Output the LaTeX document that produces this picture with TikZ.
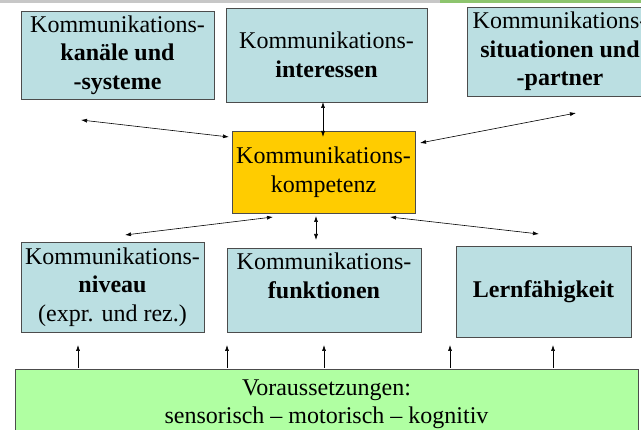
\documentclass[tikz,border=0pt]{standalone}
\usepackage{fontspec}
\setmainfont{Liberation Serif}
\usetikzlibrary{arrows.meta}
\definecolor{boxblue}{HTML}{BBDFE2}
\definecolor{kernorange}{HTML}{FFCC00}
\definecolor{basegreen}{HTML}{B0FFA2}
\definecolor{stripgreen}{HTML}{8DC46E}

\begin{document}
\begin{tikzpicture}[x=1pt, y=-1pt,
    box/.style={draw=black!70, fill=boxblue, align=center, inner sep=0pt,
      font=\fontsize{24}{28.5}\selectfont},
    link/.style={{Latex[length=6pt,width=4pt]}-{Latex[length=6pt,width=4pt]}, line width=0.6pt},
    uplink/.style={-{Latex[length=6pt,width=4pt]}, line width=0.6pt}]
      \useasboundingbox (0,0) rectangle (641,430);
      \clip (0,0) rectangle (641,430);
      \fill[black!22] (0,0) rectangle (440,3);
      \fill[stripgreen] (440,0) rectangle (641,3);

      \node[box, minimum width=193, minimum height=88] (kanal) at (117.5,55)
        {Kommunikations-\\\textbf{kanäle und}\\\textbf{-systeme}};
      \node[box, minimum width=201, minimum height=94] (interesse) at (326.5,55)
        {Kommunikations-\\\textbf{interessen}};
      \node[box, minimum width=186, minimum height=89] (situation) at (560,51.5)
        {Kommunikations-\\\textbf{situationen und}\\\textbf{-partner}};
      \node[box, fill=kernorange, minimum width=183, minimum height=82] (kompetenz) at (323.5,172)
        {Kommunikations-\\kompetenz};
      \node[box, minimum width=183, minimum height=90] (niveau) at (112.5,287)
        {Kommunikations-\\\textbf{niveau}\\(expr. und rez.)};
      \node[box, minimum width=194, minimum height=84] (funktion) at (324,290)
        {Kommunikations-\\\textbf{funktionen}\\~};
      \node[box, minimum width=175, minimum height=91] (lernen) at (543.5,291.5)
        {\textbf{Lernfähigkeit}};
      \node[box, fill=basegreen, minimum width=623, minimum height=70] (basis) at (326.5,404)
        {Voraussetzungen:\\sensorisch -- motorisch -- kognitiv};

      \coordinate (k1) at (81,120);
      \coordinate (k2) at (229,137);
      \coordinate (i1) at (323,102);
      \coordinate (i2) at (323,137);
      \coordinate (s1) at (576,113);
      \coordinate (s2) at (420,143);
      \coordinate (n1) at (125,235);
      \coordinate (n2) at (273,217);
      \coordinate (f1) at (316,216);
      \coordinate (f2) at (316,240);
      \coordinate (l1) at (390,217);
      \coordinate (l2) at (539,234);
      \draw[link] (k1) -- (k2);
      \draw[link] (i1) -- (i2);
      \draw[link] (s1) -- (s2);
      \draw[link] (n1) -- (n2);
      \draw[link] (f1) -- (f2);
      \draw[link] (l1) -- (l2);

      \foreach \x in {78,227,324,450,553}
        \draw[uplink] (\x,368) coordinate (b\x) -- (\x,345) coordinate (t\x);
\end{tikzpicture}
\end{document}
